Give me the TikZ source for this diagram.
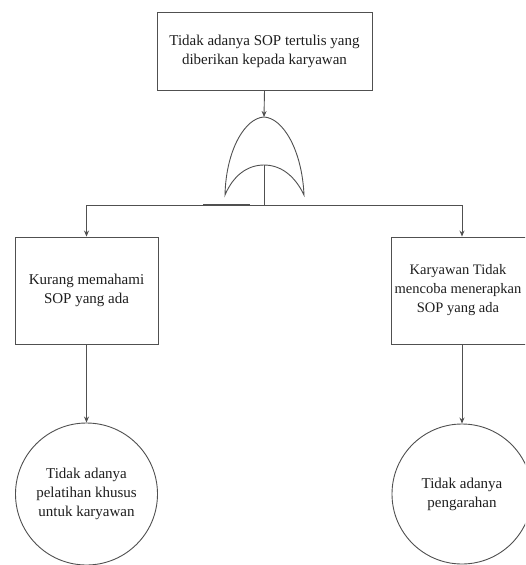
\documentclass[tikz,border=0pt]{standalone}
\usepackage{fontspec}
\setmainfont{Liberation Serif}
\usetikzlibrary{arrows.meta}
\definecolor{ln}{HTML}{505050}
\definecolor{tx}{HTML}{1e1e1e}
\tikzset{
  box/.style={draw=ln, line width=0.9pt, rectangle, inner sep=0pt, align=center,
    text=tx, font=\fontsize{15}{19}\selectfont},
  evt/.style={draw=ln, line width=0.9pt, circle, inner sep=0pt, align=center,
    text=tx, font=\fontsize{15}{19}\selectfont},
  lbl/.style={inner sep=0pt, align=center, text=tx, font=\fontsize{14.5}{19}\selectfont},
  conn/.style={draw=ln, line width=0.9pt},
  arr/.style={conn, -{Stealth[length=6pt,width=5pt]}},
}
\begin{document}
\begin{tikzpicture}[x=1pt,y=-1pt]
\useasboundingbox (0,0) rectangle (525,565);
\clip (0,0) rectangle (525,565);
\fill[white] (0,0) rectangle (525,565);

\node[box, minimum width=215pt, minimum height=78pt] (top) at (264.5,51)
  {Tidak adanya SOP tertulis yang\\diberikan kepada karyawan};
\node[box, minimum width=143pt, minimum height=107pt] (left) at (86.5,290.5)
  {Kurang memahami\\SOP yang ada};
\node[box, minimum width=142pt, minimum height=107pt] (right) at (462,290.5) {};
\node[lbl] (rtext) at (458,290.5)
  {Karyawan Tidak\\mencoba menerapkan\\SOP yang ada};
\node[evt, minimum size=142pt] (lc) at (86.5,494)
  {Tidak adanya\\pelatihan khusus\\untuk karyawan};
\node[evt, minimum size=140pt] (rc) at (462,494)
  {Tidak adanya\\pengarahan};

% OR gate
\coordinate (gtop) at (264,117);
\coordinate (gmid) at (264,165);
\path[draw=ln, line width=0.9pt, fill=white]
  (225,195) .. controls (226,150) and (245,118) .. (gtop)
  .. controls (283,118) and (302,150) .. (304,195)
  .. controls (295,176) and (281,165) .. (gmid)
  .. controls (247,165) and (233,176) .. cycle;

\coordinate (jc) at (264,205);
\coordinate (jl) at (86.5,205);
\coordinate (jr) at (462,205);

\draw[arr] (top.south) -- (gtop);
\draw[conn] (gmid) -- (jc);
\draw[conn] (jl) -- (jr);
\draw[draw=ln, line width=1.5pt] (203,205) -- (250,205);
\draw[arr] (jl) -- (left.north);
\draw[arr] (jr) -- (right.north);
\draw[arr] (left.south) -- (lc.north);
\draw[arr] (right.south) -- (rc.north);
\end{tikzpicture}
\end{document}
